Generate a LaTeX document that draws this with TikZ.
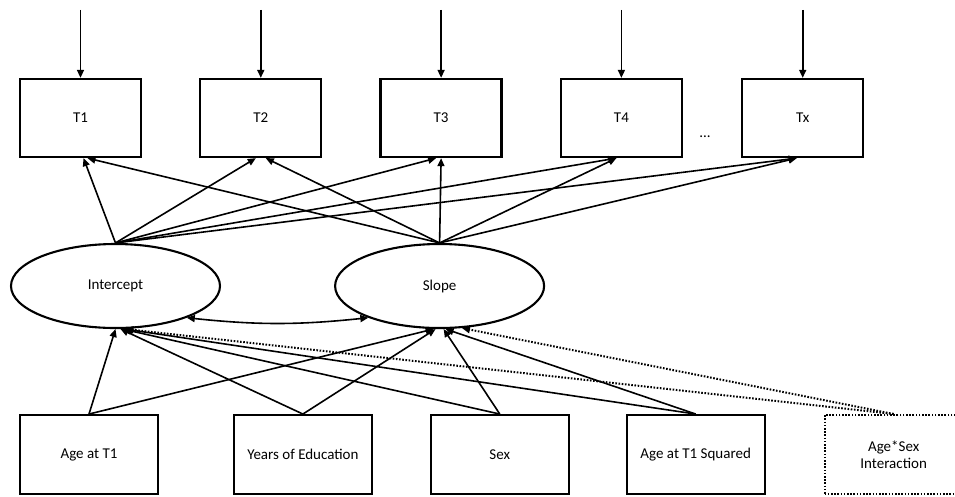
\documentclass[tikz,border=0pt]{standalone}
\usepackage{fontspec}
\setmainfont{Carlito}
\usetikzlibrary{positioning,shapes.geometric,arrows.meta}

\begin{document}
\begin{tikzpicture}[x=1pt, y=1pt,
				font=\fontsize{15}{17.5}\selectfont,
				obs/.style={rectangle, draw=black, line width=2.3pt, minimum width=121pt, minimum height=78pt, inner sep=0pt},
				cov/.style={rectangle, draw=black, line width=1.9pt, minimum width=138pt, minimum height=79pt, align=center, inner sep=0pt},
				latent/.style={ellipse, draw=black, line width=2.1pt, minimum width=209pt, minimum height=84pt, inner sep=0pt},
				reg/.style={line width=1.6pt, -{Triangle[length=8pt,width=7pt]}},
				dotline/.style={line width=2pt, dash pattern=on 1.6pt off 1.6pt}
			]
			\useasboundingbox (0,0) rectangle (955,-496);
			% time points
			\node[obs] (T1) at (80.5,-118) {T1};
			\node[obs] (T2) [right=57pt of T1] {T2};
			\node[obs] (T3) [right=57pt of T2] {T3};
			\node[obs] (T4) [right=57pt of T3] {T4};
			\node[obs] (Tx) [right=58pt of T4] {Tx};
			\node[inner sep=0pt] (dots) [right=16pt of T4, yshift=-19pt] {...};
			\coordinate[above=68pt of T1.north] (t1in);
			\coordinate[above=68pt of T2.north] (t2in);
			\coordinate[above=68pt of T3.north] (t3in);
			\coordinate[above=68pt of T4.north] (t4in);
			\coordinate[above=68pt of Tx.north] (txin);
			% growth factors
			\node[latent] (intercept) at (115.5,-286) {Intercept};
			\node[latent] (slope) [right=113pt of intercept] {Slope};
			% covariates
			\node[cov] (age) at (89,-454.5) {Age at T1};
			\node[cov] (educ) [right=74pt of age] {Years of Education};
			\node[cov] (sex) [right=57pt of educ] {Sex};
			\node[cov] (agesq) [right=56pt of sex] {Age at T1 Squared};
			\node[cov, dotline] (agesex) [right=58pt of agesq] {Age*Sex\\Interaction};
			\begin{scope}[reg]
			\draw (t1in) -- (T1.north);
			\draw (t2in) -- (T2.north);
			\draw (t3in) -- (T3.north);
			\draw (t4in) -- (T4.north);
			\draw (txin) -- (Tx.north);
			\draw (intercept.north) -- ([xshift=3pt]T1.south);
			\draw (intercept.north) -- ([xshift=-5pt]T2.south);
			\draw (intercept.north) -- ([xshift=-5pt]T3.south);
			\draw (intercept.north) -- ([xshift=-5pt]T4.south);
			\draw (intercept.north) -- ([xshift=-6pt]Tx.south);
			\draw (slope.north) -- ([xshift=7pt]T1.south);
			\draw (slope.north) -- ([xshift=5pt]T2.south);
			\draw (slope.north) -- (T3.south);
			\draw (slope.north) -- ([xshift=-5pt]T4.south);
			\draw (slope.north) -- ([xshift=-6pt]Tx.south);
			\draw[{Triangle[length=8pt,width=7pt]}-{Triangle[length=8pt,width=7pt]}] (intercept.-24) to[bend right=6] (slope.-156);
			\draw (age.north) -- (intercept.south);
			\draw (age.north) -- ([xshift=-6pt]slope.south);
			\draw (educ.north) -- ([xshift=5pt]intercept.south);
			\draw (educ.north) -- ([xshift=-4pt]slope.south);
			\draw (sex.north) -- ([xshift=7pt]intercept.south);
			\draw (sex.north) -- ([xshift=4pt]slope.south);
			\draw (agesq.north) -- ([xshift=9pt]intercept.south);
			\draw (agesq.north) -- ([xshift=6pt]slope.south);
			\draw[dotline] (agesex.north) -- ([xshift=10pt]intercept.south);
			\draw[dotline] (agesex.north) -- (slope.-62);
			\end{scope}
			\end{tikzpicture}
\end{document}
